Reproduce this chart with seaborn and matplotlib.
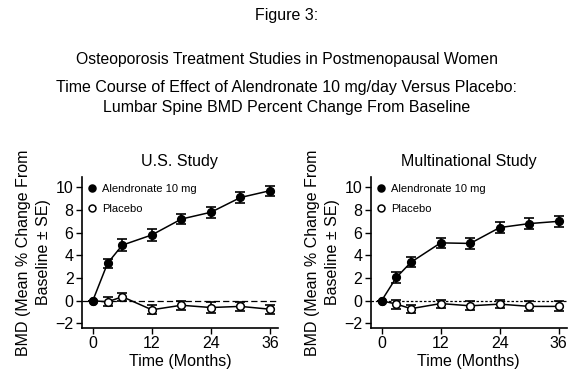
import numpy as np
import pandas as pd
import matplotlib.pyplot as plt
import seaborn as sns

sns.set_theme(style="ticks")
plt.rcParams['font.family'] = ['Liberation Sans', 'DejaVu Sans']
for k in ["text.color", "axes.labelcolor", "xtick.color", "ytick.color", "axes.edgecolor"]:
    plt.rcParams[k] = "black"

months = [0, 3, 6, 12, 18, 24, 30, 36]

us_alen = [0, 3.3, 4.9, 5.8, 7.2, 7.8, 9.1, 9.7]
us_alen_se = [0, 0.4, 0.5, 0.5, 0.45, 0.5, 0.45, 0.45]
us_plac = [0, -0.1, 0.35, -0.8, -0.4, -0.6, -0.5, -0.75]
us_plac_se = [0, 0.4, 0.35, 0.4, 0.4, 0.45, 0.4, 0.4]

mn_alen = [0, 2.05, 3.4, 5.1, 5.05, 6.45, 6.8, 7.0]
mn_alen_se = [0, 0.45, 0.45, 0.45, 0.45, 0.45, 0.5, 0.5]
mn_plac = [0, -0.3, -0.7, -0.25, -0.45, -0.3, -0.5, -0.5]
mn_plac_se = [0, 0.4, 0.35, 0.35, 0.4, 0.35, 0.45, 0.45]

studies = ["U.S. Study", "Multinational Study"]
groups = ["Alendronate 10 mg", "Placebo"]

fig = plt.figure(figsize=(5.73, 3.8), dpi=100)
axes = [fig.add_axes([0.143, 0.137, 0.342, 0.397]),
        fig.add_axes([0.647, 0.137, 0.342, 0.397])]

fig.text(0.5, 0.96, "Figure 3:", ha="center", va="center", fontsize=11.5)
fig.text(0.5, 0.843, "Osteoporosis Treatment Studies in Postmenopausal Women",
         ha="center", va="center", fontsize=11.3)
fig.text(0.5, 0.77, "Time Course of Effect of Alendronate 10 mg/day Versus Placebo:",
         ha="center", va="center", fontsize=11.5)
fig.text(0.5, 0.718, "Lumbar Spine BMD Percent Change From Baseline",
         ha="center", va="center", fontsize=11.5)

series = [(us_alen, us_alen_se, us_plac, us_plac_se),
          (mn_alen, mn_alen_se, mn_plac, mn_plac_se)]
dashes = [(0, (5, 2.5)), (0, (2, 1.5))]

for ax, title, (a, a_se, p, p_se), ls in zip(axes, studies, series, dashes):
    ax.axhline(0, color="black", lw=0.9, ls=ls, zorder=1)
    df = pd.DataFrame({"month": months * 2, "bmd": p + a,
                       "se": p_se + a_se,
                       "group": ["Placebo"] * 8 + ["Alendronate 10 mg"] * 8})
    for g, fc in [("Placebo", "white"), ("Alendronate 10 mg", "black")]:
        d = df[df.group == g]
        ax.errorbar(d.month, d.bmd, yerr=d.se, fmt="none", ecolor="black",
                    elinewidth=1.2, capsize=3.3, capthick=1.2, zorder=2)
        sns.lineplot(data=d, x="month", y="bmd", ax=ax, color="black", lw=1.1,
                     marker="o", markersize=5.5, markerfacecolor=fc,
                     markeredgecolor="black", markeredgewidth=1.1,
                     zorder=3, label=g)
    ax.set_xlim(-2.2, 37.6)
    ax.set_ylim(-2.4, 10.9)
    ax.set_xticks([0, 12, 24, 36])
    ax.set_yticks(np.arange(-2, 11, 2))
    ax.tick_params(labelsize=11.5, length=4, width=1, color="black", pad=2)
    ax.set_xlabel("Time (Months)", fontsize=11.5, labelpad=2)
    ax.set_ylabel("BMD (Mean % Change From\nBaseline ± SE)", fontsize=11.5,
                  labelpad=3, linespacing=1.45)
    ax.set_title(title, fontsize=11.5, pad=8)
    for s in ["left", "bottom"]:
        ax.spines[s].set_linewidth(1.2)
        ax.spines[s].set_color("black")
    sns.despine(ax=ax)
    h, l = ax.get_legend_handles_labels()
    order = [l.index(g) for g in groups]
    leg = ax.legend([h[i] for i in order], [l[i] for i in order],
                    loc="upper left", frameon=False, fontsize=8,
                    handlelength=0.6, handletextpad=0.6, labelspacing=0.85,
                    borderaxespad=0.25)
    for line in leg.get_lines():
        line.set_linestyle("none")
        line.set_markersize(5)

fig.savefig("out.png", dpi=100)
